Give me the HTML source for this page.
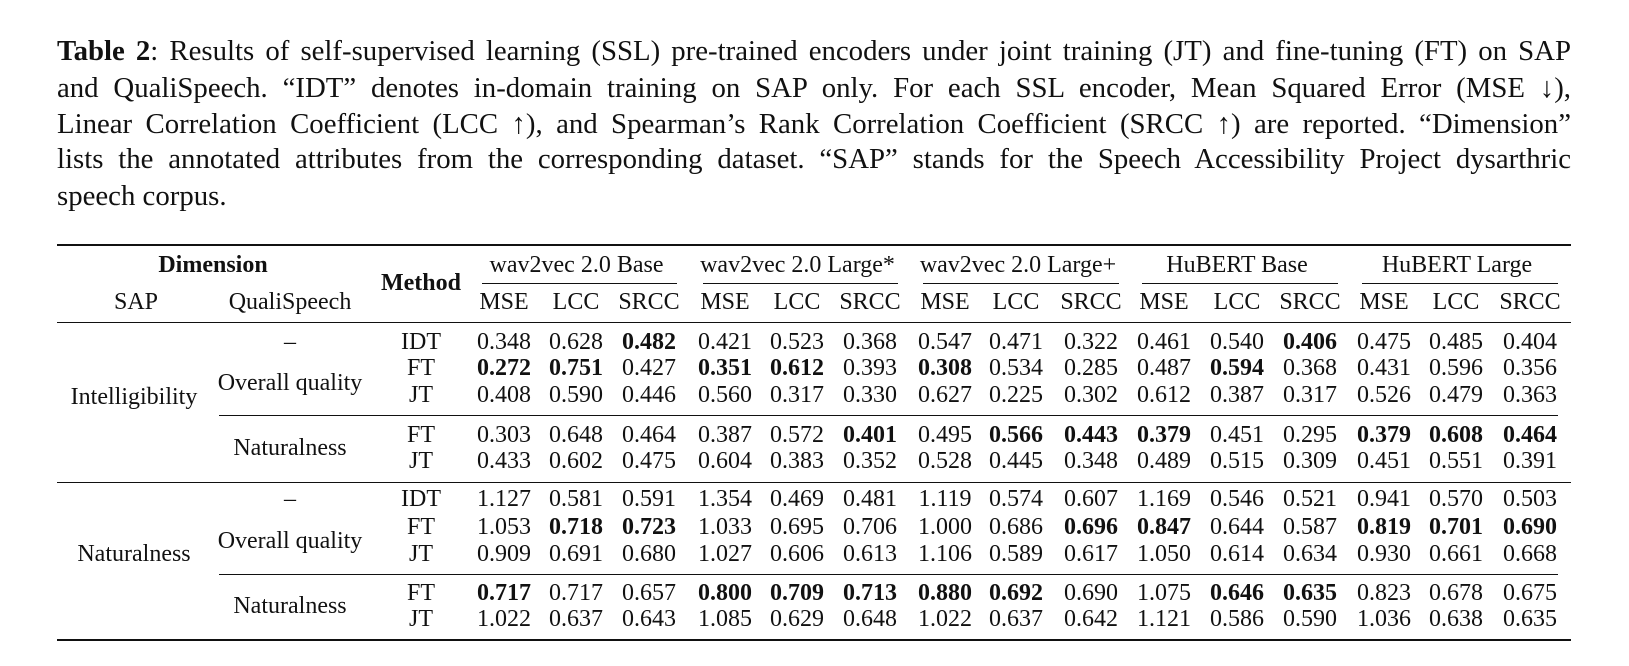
<!DOCTYPE html>
<html><head><meta charset="utf-8"><style>
body{margin:0;width:1629px;height:666px;background:#fff;position:relative;overflow:hidden;font-family:"Liberation Serif",serif;color:#111}
.cap{position:absolute;left:57px;width:1514px;font-size:28.8px;line-height:36px;text-align:justify;text-align-last:justify;white-space:nowrap}
.t{position:absolute;font-size:24px;transform:translate(-50%,-50%);white-space:nowrap;line-height:1}
.r{position:absolute;background:#111}
</style></head><body>
<div class="cap" style="top:33px"><b>Table 2</b>: Results of self-supervised learning (SSL) pre-trained encoders under joint training (JT) and fine-tuning (FT) on SAP</div>
<div class="cap" style="top:70px">and QualiSpeech. “IDT” denotes in-domain training on SAP only. For each SSL encoder, Mean Squared Error (MSE ↓),</div>
<div class="cap" style="top:106px">Linear Correlation Coefficient (LCC ↑), and Spearman’s Rank Correlation Coefficient (SRCC ↑) are reported. “Dimension”</div>
<div class="cap" style="top:141px">lists the annotated attributes from the corresponding dataset. “SAP” stands for the Speech Accessibility Project dysarthric</div>
<div class="cap" style="top:178px;text-align-last:left">speech corpus.</div>
<div id="tbl"></div>
<script>
const encoders=["wav2vec 2.0 Base","wav2vec 2.0 Large*","wav2vec 2.0 Large+","HuBERT Base","HuBERT Large"];
const metrics=["MSE","LCC","SRCC"];
const methods=["IDT","FT","JT","FT","JT","IDT","FT","JT","FT","JT"];
// '*' prefix = bold
const values=[
["0.348","0.628","*0.482","0.421","0.523","0.368","0.547","0.471","0.322","0.461","0.540","*0.406","0.475","0.485","0.404"],
["*0.272","*0.751","0.427","*0.351","*0.612","0.393","*0.308","0.534","0.285","0.487","*0.594","0.368","0.431","0.596","0.356"],
["0.408","0.590","0.446","0.560","0.317","0.330","0.627","0.225","0.302","0.612","0.387","0.317","0.526","0.479","0.363"],
["0.303","0.648","0.464","0.387","0.572","*0.401","0.495","*0.566","*0.443","*0.379","0.451","0.295","*0.379","*0.608","*0.464"],
["0.433","0.602","0.475","0.604","0.383","0.352","0.528","0.445","0.348","0.489","0.515","0.309","0.451","0.551","0.391"],
["1.127","0.581","0.591","1.354","0.469","0.481","1.119","0.574","0.607","1.169","0.546","0.521","0.941","0.570","0.503"],
["1.053","*0.718","*0.723","1.033","0.695","0.706","1.000","0.686","*0.696","*0.847","0.644","0.587","*0.819","*0.701","*0.690"],
["0.909","0.691","0.680","1.027","0.606","0.613","1.106","0.589","0.617","1.050","0.614","0.634","0.930","0.661","0.668"],
["*0.717","0.717","0.657","*0.800","*0.709","*0.713","*0.880","*0.692","0.690","1.075","*0.646","*0.635","0.823","0.678","0.675"],
["1.022","0.637","0.643","1.085","0.629","0.648","1.022","0.637","0.642","1.121","0.586","0.590","1.036","0.638","0.635"]];
const colX=[504,576,649,725,797,870,945,1016,1091,1164,1237,1310,1384,1456,1530];
const rowY=[342,368,395,435,461,499,527,554,593,619];
const T=document.getElementById('tbl');
function txt(s,x,y,bold,name){const d=document.createElement('div');d.className='t';d.style.left=x+'px';d.style.top=y+'px';if(bold)d.style.fontWeight='bold';d.textContent=s;


T.appendChild(d);}
function rule(x1,x2,y,h,name){const d=document.createElement('div');d.className='r';d.style.left=x1+'px';d.style.width=(x2-x1)+'px';d.style.top=y+'px';d.style.height=h+'px';


T.appendChild(d);}
rule(57,1571,244,2,'top-rule');rule(57,1571,322,1.4,'header-rule');rule(57,1571,482,1.4,'group-rule');rule(57,1571,639,2,'bottom-rule');
rule(219,1558,415,1.2,'sub-rule-1');rule(219,1558,574,1.2,'sub-rule-2');
txt('Dimension',213,265,true,'dimension-header');txt('Method',421,283,true,'method-header');
txt('SAP',136,302,false,'sap-header');txt('QualiSpeech',290,302,false,'qualispeech-header');
encoders.forEach((e,i)=>{const cx=(colX[i*3]+colX[i*3+2])/2;txt(e,cx,265,false,'encoder-header');rule(colX[i*3]-22,colX[i*3+2]+28,283,1.2,'encoder-cmidrule');
metrics.forEach((m,j)=>txt(m,colX[i*3+j],302,false,'metric-header'));});
txt('Intelligibility',134,397,false,'sap-intelligibility');txt('Naturalness',134,554,false,'sap-naturalness');
txt('–',290,342,false,'qs-none');txt('Overall quality',290,383,false,'qs-overall');txt('Naturalness',290,448,false,'qs-naturalness');
txt('–',290,499,false,'qs-none');txt('Overall quality',290,541,false,'qs-overall');txt('Naturalness',290,606,false,'qs-naturalness');
methods.forEach((m,r)=>{txt(m,421,rowY[r],false,'method-cell');
values[r].forEach((v,c)=>{const b=v[0]==='*';txt(b?v.slice(1):v,colX[c],rowY[r],b,'value-cell');});});
</script>
</body></html>
